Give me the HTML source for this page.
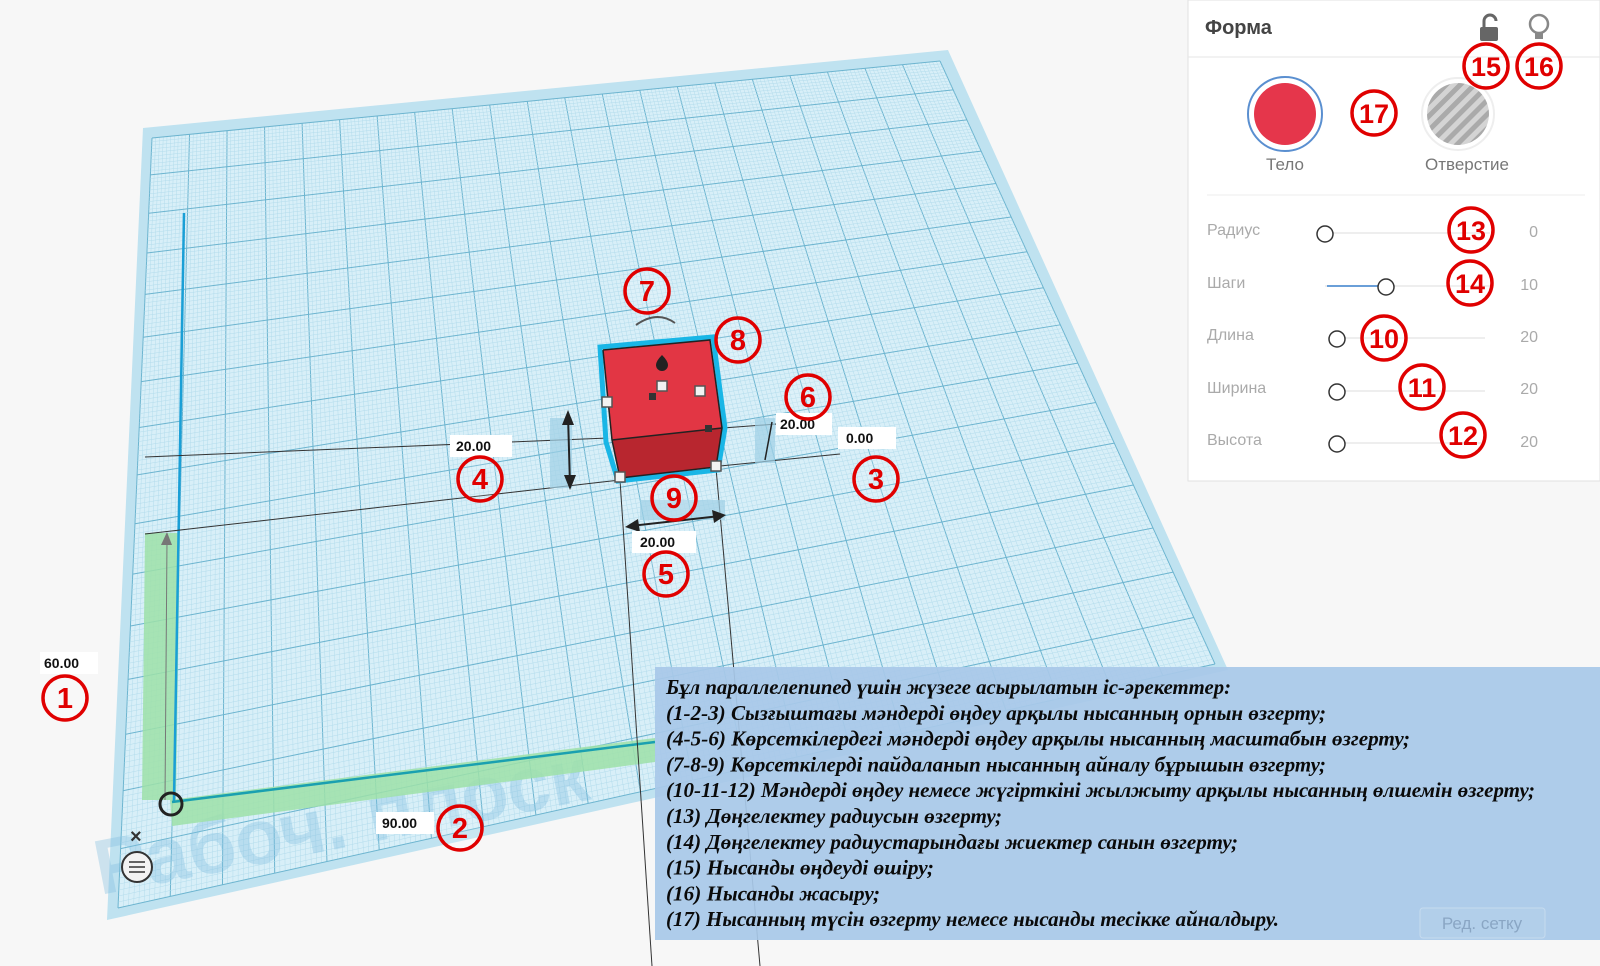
<!DOCTYPE html>
<html><head><meta charset="utf-8">
<style>
html,body{margin:0;padding:0;background:#f7f7f7;}
body{width:1600px;height:966px;overflow:hidden;position:relative;font-family:"Liberation Sans","DejaVu Sans",sans-serif;}
svg{position:absolute;left:0;top:0;}
</style></head>
<body>
<svg id="scene" width="1600" height="966" viewBox="0 0 1600 966">
  <rect x="0" y="0" width="1600" height="966" fill="#f7f7f7"/>
  <polygon points="143,128 948,50 1228,670 107,920" fill="#bfe2f0"/>
  <polygon points="152,138 940,61 1215,664 118,908" fill="#d8eff8"/>
  <g id="grid"></g>
  <text x="100" y="895" font-size="78" font-weight="bold" fill="#7fbde0" opacity="0.35" transform="rotate(-11 100 895)">Рабоч. плоск</text>
  <polygon points="145,533 180,533 176,800 142,800" fill="#9ee0a8" opacity="0.85"/>
  <polygon points="170,800 655,738 655,762 172,826" fill="#9ee0a8" opacity="0.85"/>
  <line x1="184" y1="213" x2="174" y2="802" stroke="#1a9fd6" stroke-width="2.5"/>
  <line x1="172" y1="802" x2="655" y2="742" stroke="#1aa0b0" stroke-width="2.5"/>
  <line x1="167" y1="540" x2="165" y2="800" stroke="#777" stroke-width="1"/>
  <polygon points="161,545 167,532 172,545" fill="#777"/>
  <circle cx="171" cy="804" r="11" fill="none" stroke="#222" stroke-width="3"/>
  <g stroke="#333" stroke-width="1" fill="none">
    <line x1="145" y1="457" x2="608" y2="438"/>
    <line x1="145" y1="534" x2="620" y2="480"/>
    <line x1="720" y1="466" x2="840" y2="454"/>
    <line x1="723" y1="428" x2="790" y2="423"/>
    <line x1="620" y1="480" x2="652" y2="966"/>
    <line x1="716" y1="468" x2="760" y2="966"/>
  </g>
  <rect x="550" y="418" width="22" height="70" fill="#9fd0e6" opacity="0.7"/>
  <line x1="568" y1="415" x2="570" y2="485" stroke="#222" stroke-width="2"/>
  <polygon points="562,425 568,410 574,425" fill="#222"/>
  <polygon points="564,475 570,490 576,475" fill="#222"/>
  <rect x="755" y="418" width="20" height="45" fill="#9fd0e6" opacity="0.7"/>
  <line x1="772" y1="422" x2="765" y2="460" stroke="#222" stroke-width="1.5"/>
  <rect x="640" y="500" width="85" height="20" fill="#9fd0e6" opacity="0.7"/>
  <line x1="630" y1="526" x2="720" y2="516" stroke="#222" stroke-width="2"/>
  <polygon points="638,519 625,527 640,532" fill="#222"/>
  <polygon points="712,510 726,515 714,523" fill="#222"/>
  <path d="M636,325 Q657,310 675,323" stroke="#555" stroke-width="2" fill="none"/>
  <polygon points="600,347 713,337 725,428 718,470 618,481 606,442" fill="none" stroke="#19b6e6" stroke-width="5"/>
  <polygon points="603,350 710,340 722,428 612,440" fill="#e23644"/>
  <polygon points="612,440 722,428 716,467 620,478" fill="#b8262f"/>
  <polyline points="603,350 710,340 722,428 716,467 620,478 612,440 603,350" fill="none" stroke="#222" stroke-width="1.5"/>
  <line x1="612" y1="440" x2="722" y2="428" stroke="#222" stroke-width="1.5"/>
  <path d="M662,355 q6,6 6,10 a6,6 0 1 1 -12,0 q0,-4 6,-10z" fill="#222"/>
  <g fill="#f2f2f2" stroke="#555" stroke-width="1.5">
    <rect x="602" y="397" width="10" height="10"/><rect x="657" y="381" width="10" height="10"/>
    <rect x="695" y="386" width="10" height="10"/><rect x="615" y="472" width="10" height="10"/>
    <rect x="711" y="461" width="10" height="10"/>
  </g>
  <rect x="649" y="393" width="7" height="7" fill="#333"/><rect x="705" y="425" width="7" height="7" fill="#333"/>
  <g font-size="14" font-weight="bold" fill="#111">
    <rect x="40" y="652" width="58" height="22" fill="#fff"/><text x="44" y="668">60.00</text>
    <rect x="376" y="812" width="58" height="22" fill="#fff"/><text x="382" y="828">90.00</text>
    <rect x="450" y="435" width="62" height="22" fill="#fff"/><text x="456" y="451">20.00</text>
    <rect x="838" y="427" width="58" height="22" fill="#fff"/><text x="846" y="443">0.00</text>
    <rect x="776" y="413" width="56" height="22" fill="#fff"/><text x="780" y="429">20.00</text>
    <rect x="632" y="531" width="64" height="22" fill="#fff"/><text x="640" y="547">20.00</text>
  </g>
  <text x="130" y="843" font-size="20" font-weight="bold" fill="#333">×</text>
  <circle cx="137" cy="867" r="15" fill="#f2f2f2" stroke="#333" stroke-width="2"/>
  <path d="M129,862h16M129,867h16M129,872h16" stroke="#333" stroke-width="1.5"/>
  <g>
    <rect x="1188" y="0" width="412" height="481" fill="#ffffff" stroke="#e2e2e2"/>
    <text x="1205" y="34" font-size="20" font-weight="bold" fill="#444">Форма</text>
    <line x1="1188" y1="57" x2="1600" y2="57" stroke="#e6e6e6"/>
    <rect x="1480" y="27" width="18" height="14" rx="2" fill="#666"/>
    <path d="M1484,27v-6a6,6 0 0 1 12,0" stroke="#666" stroke-width="3" fill="none"/>
    <circle cx="1539" cy="24" r="9" fill="none" stroke="#888" stroke-width="2.5"/>
    <rect x="1535" y="33" width="8" height="6" fill="#888"/>
    <circle cx="1285" cy="114" r="37" fill="#fff" stroke="#5a8fd0" stroke-width="2"/>
    <circle cx="1285" cy="114" r="31" fill="#e5364b"/>
    <defs><pattern id="str" width="10" height="10" patternUnits="userSpaceOnUse" patternTransform="rotate(45)"><rect width="10" height="10" fill="#d4d4d4"/><rect width="5" height="10" fill="#aaa"/></pattern></defs>
    <circle cx="1458" cy="114" r="36" fill="#fff" stroke="#eee" stroke-width="2"/>
    <circle cx="1458" cy="114" r="31" fill="url(#str)"/>
    <text x="1285" y="170" font-size="17" fill="#777" text-anchor="middle">Тело</text>
    <text x="1467" y="170" font-size="17" fill="#777" text-anchor="middle">Отверстие</text>
    <line x1="1207" y1="195" x2="1585" y2="195" stroke="#eee"/>
    <g font-size="16" fill="#aaa">
      <text x="1207" y="235">Радиус</text><text x="1207" y="288">Шаги</text><text x="1207" y="340">Длина</text><text x="1207" y="393">Ширина</text><text x="1207" y="445">Высота</text>
      <text x="1538" y="237" text-anchor="end">0</text><text x="1538" y="290" text-anchor="end">10</text><text x="1538" y="342" text-anchor="end">20</text><text x="1538" y="394" text-anchor="end">20</text><text x="1538" y="447" text-anchor="end">20</text>
    </g>
    <g stroke="#eee" stroke-width="2">
      <line x1="1325" y1="233" x2="1490" y2="233"/><line x1="1325" y1="286" x2="1490" y2="286"/>
      <line x1="1337" y1="338" x2="1485" y2="338"/><line x1="1337" y1="391" x2="1485" y2="391"/><line x1="1337" y1="443" x2="1485" y2="443"/>
    </g>
    <line x1="1327" y1="286" x2="1386" y2="286" stroke="#6a9fd8" stroke-width="2"/>
    <g fill="#fff" stroke="#333" stroke-width="1.5">
      <circle cx="1325" cy="234" r="8"/><circle cx="1386" cy="287" r="8"/><circle cx="1337" cy="339" r="8"/><circle cx="1337" cy="392" r="8"/><circle cx="1337" cy="444" r="8"/>
    </g>
  </g>
  <g id="callouts"></g>
  <rect x="655" y="667" width="945" height="273" fill="#a8c8e8" opacity="0.93"/>
  <rect x="1420" y="908" width="125" height="30" rx="3" fill="#b2cfea" stroke="#c6dbef"/>
  <text x="1482" y="929" font-size="17" fill="#8aa6c4" text-anchor="middle">Ред. сетку</text>
  <g id="desc" font-family="Liberation Serif, serif" font-size="21" font-style="italic" font-weight="bold" fill="#0a0a0a"></g>
</svg>
<script>
const NS='http://www.w3.org/2000/svg';
const TL=[152,138],TR=[940,61],BR=[1215,664],BL=[118,908];
function P(u,v){const t=[TL[0]+(TR[0]-TL[0])*u,TL[1]+(TR[1]-TL[1])*u],b=[BL[0]+(BR[0]-BL[0])*u,BL[1]+(BR[1]-BL[1])*u];
  const vv=v*(0.75+0.25*v); return [t[0]+(b[0]-t[0])*vv,t[1]+(b[1]-t[1])*vv];}
const g=document.getElementById('grid');
const COLS=21,ROWS=16,SUB=10;
function ln(a,b,c,w){const l=document.createElementNS(NS,'line');l.setAttribute('x1',a[0]);l.setAttribute('y1',a[1]);l.setAttribute('x2',b[0]);l.setAttribute('y2',b[1]);l.setAttribute('stroke',c);l.setAttribute('stroke-width',w);g.appendChild(l);}
for(let i=0;i<=COLS*SUB;i++){const u=i/(COLS*SUB);const M=i%SUB===0;ln(P(u,0),P(u,1),M?'#6cb4cf':'#b3dcec',M?1:0.5);}
for(let j=0;j<=ROWS*SUB;j++){const v=j/(ROWS*SUB);const M=j%SUB===0;ln(P(0,v),P(1,v),M?'#6cb4cf':'#b3dcec',M?1:0.5);}
const calls=[[1,65,698],[2,460,828],[3,876,479],[4,480,479],[5,666,574],[6,808,397],[7,647,291],[8,738,340],[9,674,498],[10,1384,338],[11,1422,387],[12,1463,435],[13,1471,230],[14,1470,283],[15,1486,66],[16,1539,66],[17,1374,113]];
const cg=document.getElementById('callouts');
calls.forEach(c=>{const gr=document.createElementNS(NS,'g');


const ci=document.createElementNS(NS,'circle');ci.setAttribute('cx',c[1]);ci.setAttribute('cy',c[2]);ci.setAttribute('r',22);ci.setAttribute('fill','rgba(255,255,255,0.15)');ci.setAttribute('stroke','#e00000');ci.setAttribute('stroke-width',3.5);gr.appendChild(ci);
const t=document.createElementNS(NS,'text');t.setAttribute('x',c[1]);t.setAttribute('y',c[2]+10);t.setAttribute('text-anchor','middle');t.setAttribute('font-size',c[0]>9?27:29);t.setAttribute('font-weight','bold');t.setAttribute('fill','#e00000');t.textContent=c[0];gr.appendChild(t);cg.appendChild(gr);});
const lines=["Бұл параллелепипед үшін жүзеге асырылатын іс-әрекеттер:","(1-2-3) Сызғыштағы мәндерді өңдеу арқылы нысанның орнын өзгерту;","(4-5-6) Көрсеткілердегі мәндерді өңдеу арқылы нысанның масштабын өзгерту;","(7-8-9) Көрсеткілерді пайдаланып нысанның айналу бұрышын өзгерту;","(10-11-12) Мәндерді өңдеу немесе жүгірткіні жылжыту арқылы нысанның өлшемін өзгерту;","(13) Дөңгелектеу радиусын өзгерту;","(14) Дөңгелектеу радиустарындағы жиектер санын өзгерту;","(15) Нысанды өңдеуді өшіру;","(16) Нысанды жасыру;","(17) Нысанның түсін өзгерту немесе нысанды тесікке айналдыру."];
const ends=[1231,1326,1410,1326,1535,1002,1238,934,880,1279];
const dg=document.getElementById('desc');
lines.forEach((s,i)=>{const t=document.createElementNS(NS,'text');t.setAttribute('x',666);t.setAttribute('y',694+i*25.8);t.setAttribute('textLength',ends[i]-666);t.setAttribute('lengthAdjust','spacingAndGlyphs');t.textContent=s;dg.appendChild(t);});
</script>
</body></html>
